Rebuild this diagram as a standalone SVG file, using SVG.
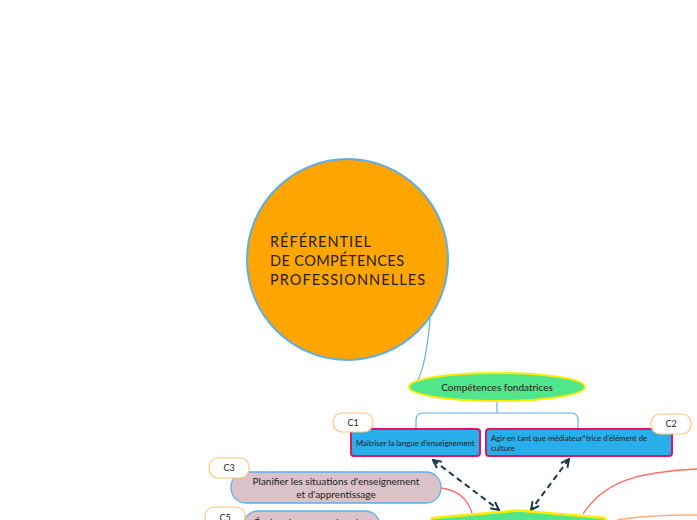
<svg xmlns="http://www.w3.org/2000/svg" width="697" height="520" viewBox="0 0 697 520">
<style>
text{font-family:Lato,"Open Sans","Liberation Sans",sans-serif;fill:#222}
.tag rect{fill:#fff;stroke:#FFC47E;stroke-width:1.2}
.tag text{font-size:9px;text-anchor:middle}
.blue rect{fill:#28AEEA;stroke:#E0155E;stroke-width:2}
.blue text{font-size:7.8px}
.pill rect{fill:#D9C2C8;stroke:#5BB0EC;stroke-width:1.3}
.pill text{font-size:10px;text-anchor:middle}
.conn{fill:none}
.tree{stroke:#63B2EE;stroke-width:1.2}
.red{stroke:#FF6E66;stroke-width:1.3}
.org{stroke:#FFAE7A;stroke-width:1.5}
.dash{stroke:#163A4C;stroke-width:2;stroke-dasharray:6 4;marker-start:url(#ah);marker-end:url(#ah)}
</style>
<defs>
<marker id="ah" viewBox="0 0 10 10" refX="9" refY="5" markerWidth="5" markerHeight="5" orient="auto-start-reverse" markerUnits="strokeWidth">
<path d="M1,1 L9,5 L1,9" fill="none" stroke="#163A4C" stroke-width="2"/>
</marker>
</defs>
<rect width="697" height="520" fill="#FFFFFF"/>
<g id="connectors">
<path class="conn tree" d="M430,318 C428,345 425,365 418,380"/>
<path class="conn tree" d="M497,401 V413 M416,428 V420 Q416,413 423,413 H571 Q578,413 578,420 V428"/>
<path class="conn red" d="M441,488 C458,490 468,500 472,513"/>
<path class="conn red" d="M583,514 C605,480 640,472 697,469"/>
<path class="conn org" d="M617,520 C640,516 670,515 697,515"/>
<path class="conn dash" d="M433,460 L499,510"/>
<path class="conn dash" d="M569,459 L531,510"/>
</g>
<g id="root">
<circle cx="347.5" cy="259.5" r="100.5" fill="#FFA500" stroke="#5AAEF0" stroke-width="2"/>
<text x="270" y="247" font-size="14.5" textLength="101" lengthAdjust="spacing">RÉFÉRENTIEL</text>
<text x="270" y="266" font-size="14.5" textLength="134" lengthAdjust="spacing">DE COMPÉTENCES</text>
<text x="270" y="285" font-size="14.5" textLength="155" lengthAdjust="spacing">PROFESSIONNELLES</text>
</g>
<g id="fondatrices">
<ellipse cx="497" cy="387" rx="88" ry="14" fill="#50E68C" stroke="#FFEA00" stroke-width="2"/>
<text x="497" y="391" font-size="10" text-anchor="middle">Compétences fondatrices</text>
</g>
<g id="c1" class="blue">
<rect x="351" y="429" width="129" height="27" rx="3"/>
<text x="356" y="445.5">Maitriser la langue d'enseignement</text>
</g>
<g id="c1-tag" class="tag">
<rect x="333" y="413" width="40" height="19" rx="9"/>
<text x="353" y="426">C1</text>
</g>
<g id="c2" class="blue">
<rect x="486" y="429" width="186" height="27" rx="3"/>
<text x="491" y="441">Agir en tant que médiateur*trice d'élément de</text>
<text x="491" y="450.5">culture</text>
</g>
<g id="c2-tag" class="tag">
<rect x="651" y="414" width="40" height="20" rx="9"/>
<text x="671" y="427">C2</text>
</g>
<g id="c3" class="pill">
<rect x="231" y="472" width="210" height="31" rx="15"/>
<text x="336" y="485">Planifier les situations d'enseignement</text>
<text x="336" y="497.5">et d'apprentissage</text>
</g>
<g id="c3-tag" class="tag">
<rect x="209" y="458" width="40" height="20" rx="9"/>
<text x="229" y="471">C3</text>
</g>
<g id="c5" class="pill">
<rect x="243" y="511" width="137" height="31" rx="15"/>
<text x="311" y="526">Évaluer la progression des</text>
</g>
<g id="c5-tag" class="tag">
<rect x="205" y="507" width="40" height="20" rx="9"/>
<text x="225" y="521">C5</text>
</g>
<g id="central">
<path d="M432,518 L518,510.5 L605,518 L605,535 L432,535 Z" fill="#50E68C" stroke="#FFEA00" stroke-width="2.5" stroke-linejoin="round"/>
</g>
</svg>
